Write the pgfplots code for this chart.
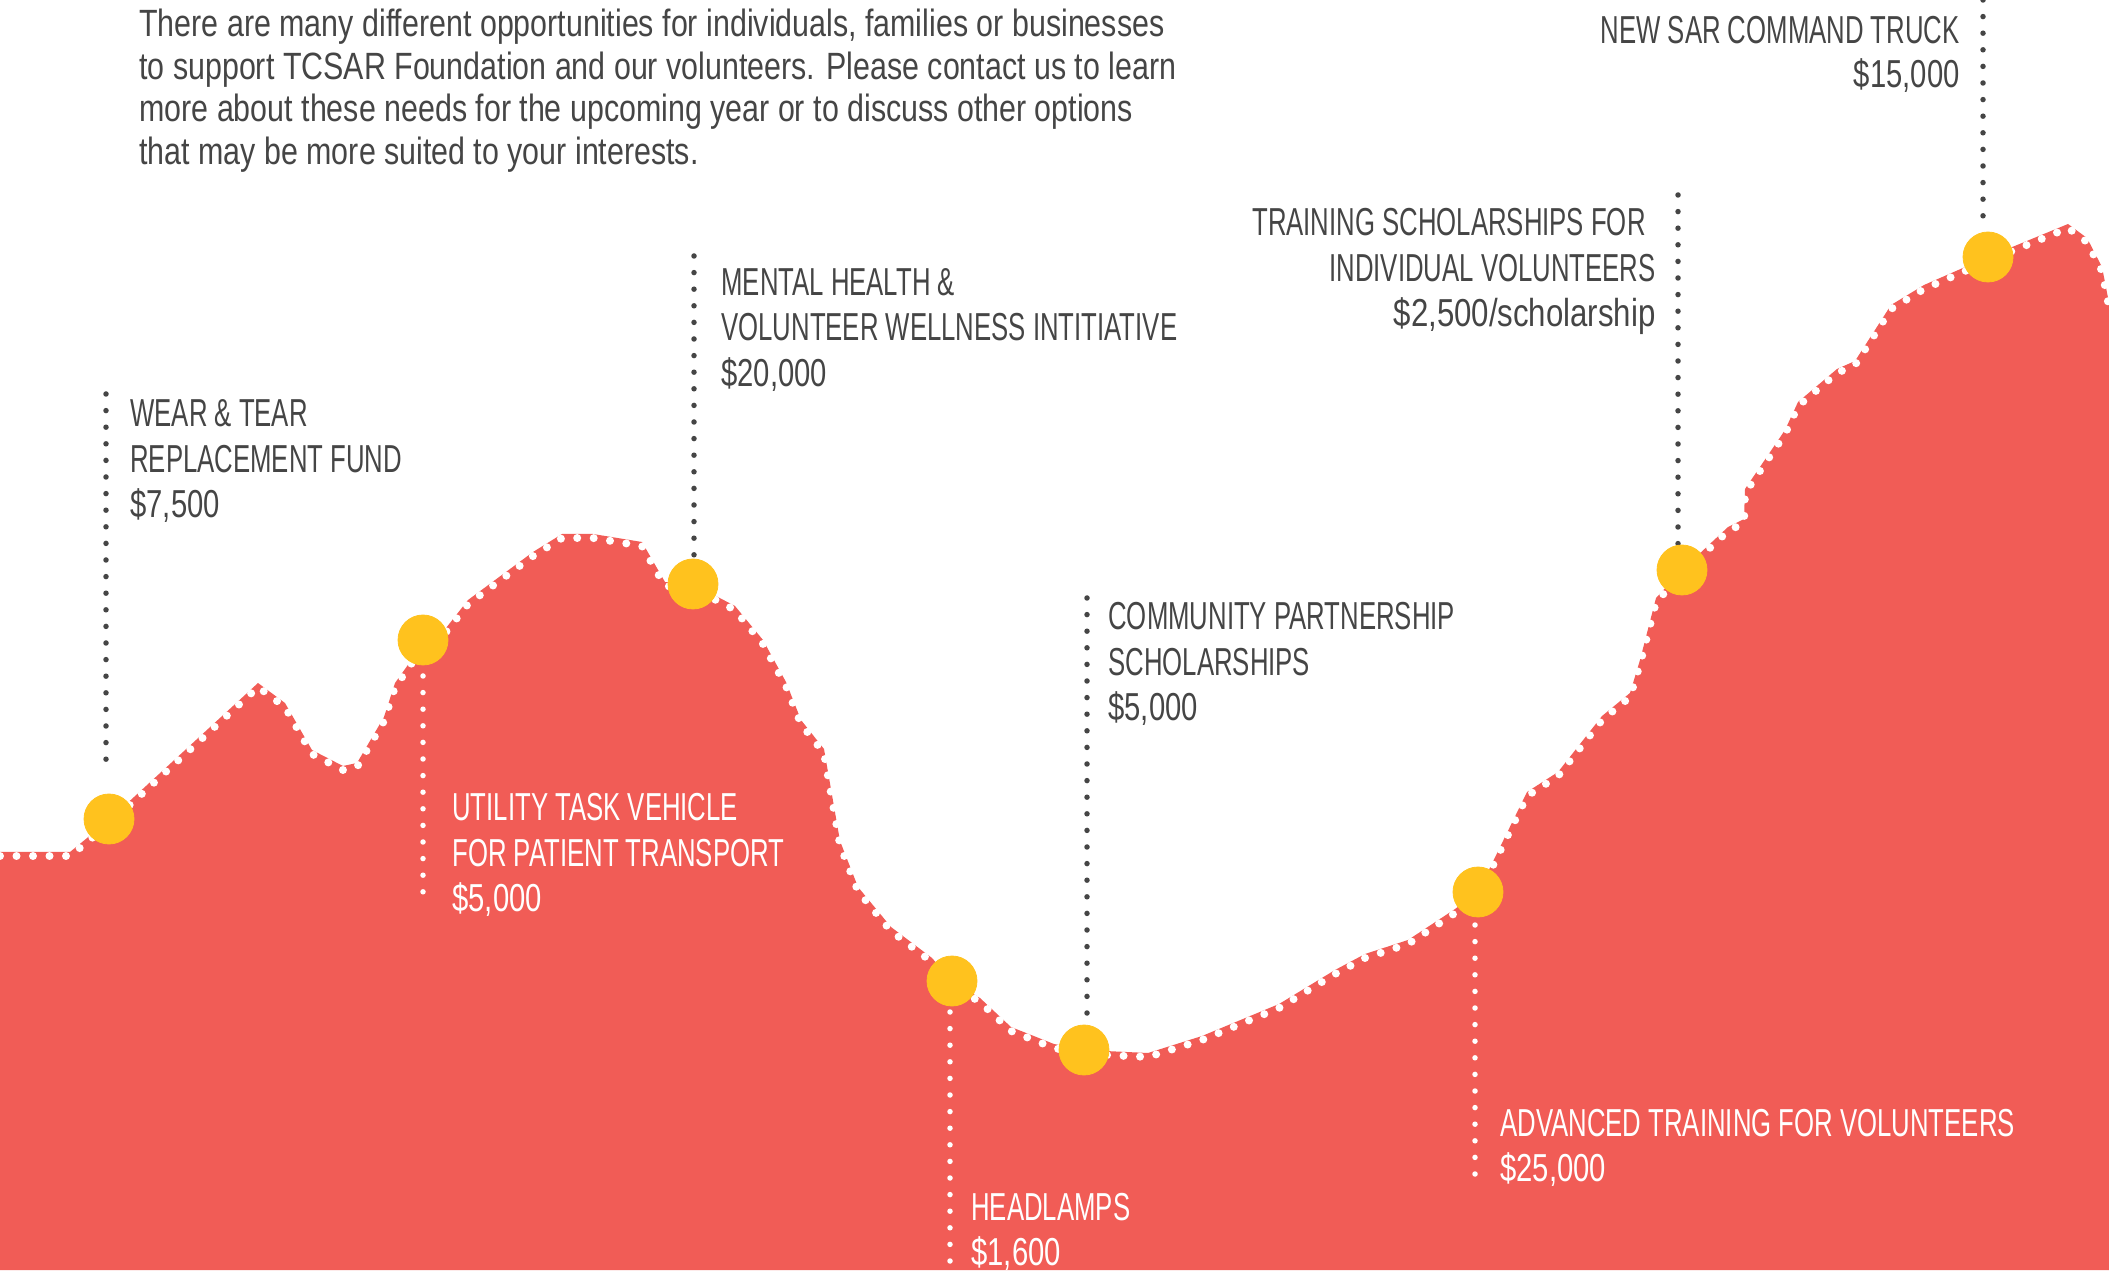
\documentclass[border=0pt]{standalone}
\usepackage{pgfplots}
\pgfplotsset{compat=1.18}
\usepackage{pgfplotstable}
\usepackage{fontspec}
\setmainfont{Liberation Sans}[FakeStretch=0.66]
\newfontfamily\numfont{Liberation Sans}[FakeStretch=0.75]
\newfontfamily\parafont{Liberation Sans}[FakeStretch=0.80]
\definecolor{tcred}{HTML}{F15C56}
\definecolor{tcgold}{HTML}{FFC21E}
\definecolor{tcgray}{HTML}{454545}

\tikzset{
    lab/.style={anchor=base west, inner sep=0pt, text=tcgray,
        font=\fontsize{19.5}{23}\selectfont},
    labr/.style={lab, anchor=base east},
    para/.style={lab, font=\parafont\fontsize{19}{23}\selectfont},
    leader/.style={line width=2.75pt, dash pattern=on 0pt off 8.3pt, line cap=round},
}

% ridge of the "mountain", x and y in image pixels (y measured from the bottom)
\pgfplotstableread{
x y
0 418
70 418
109 450
258 587
285 567
312 520
343 504
357 507
384 553
395 587
410 608
423 630
446 642
468 670
533 718
562 736
593 736
642 728
665 688
693 686
735 664
763 630
786 588
801 550
824 521
840 429
858 383
891 343
932 312
952 289
980 272
1011 243
1054 226
1084 220
1148 217
1202 234
1279 266
1335 300
1365 316
1408 330
1455 361
1478 378
1527 478
1558 498
1602 554
1630 577
1640 610
1656 672
1682 700
1728 743
1744 751
1745 781
1785 840
1798 868
1837 901
1855 909
1891 965
1924 985
1988 1013
2068 1046
2087 1032
2102 1003
2109 967
}\ridge

\begin{document}
\begin{tikzpicture}
\begin{axis}[
    width=1054.5pt, height=635pt, scale only axis,
    xmin=0, xmax=2109, ymin=0, ymax=1270,
    hide axis,
]
\addplot[draw=none, fill=tcred] table {\ridge} \closedcycle;
\addplot[white, line width=4pt, dash pattern=on 0pt off 8.25pt, line cap=round, yshift=-2pt] table {\ridge};

% leaders
\addplot[leader, tcgray] coordinates {(106,876) (106,498)};
\addplot[leader, white] coordinates {(423,594) (423,362)};
\addplot[leader, tcgray] coordinates {(694,1014) (694,715)};
\addplot[leader, white] coordinates {(950,258) (950,0)};
\addplot[leader, tcgray] coordinates {(1087,672) (1087,255)};
\addplot[leader, white] coordinates {(1475,345) (1475,90)};
\addplot[leader, tcgray] coordinates {(1678,1075) (1678,725)};
\addplot[leader, tcgray] coordinates {(1983,1270) (1983,1045)};

% markers
\addplot[only marks, mark=*, mark size=12.5pt, color=tcgold, mark options={solid, fill=tcgold, draw=tcgold}] coordinates {
(109,451) (423,630) (693,686) (952,289) (1084,220) (1478,378) (1682,700) (1988,1013)};

% intro text
\node[para] at (axis cs:139,1233) {There are many different opportunities for individuals, families or businesses};
\node[para] at (axis cs:139,1190) {to support TCSAR Foundation and our volunteers. Please contact us to learn};
\node[para] at (axis cs:139,1148) {more about these needs for the upcoming year or to discuss other options};
\node[para] at (axis cs:139,1105) {that may be more suited to your interests.};

% labels
\node[lab] at (axis cs:130,843) {WEAR \& TEAR};
\node[lab] at (axis cs:130,797) {REPLACEMENT FUND};
\node[lab] at (axis cs:130,752) {\numfont\$7,500};

\node[lab, text=white] at (axis cs:452,449) {UTILITY TASK VEHICLE};
\node[lab, text=white] at (axis cs:452,403) {FOR PATIENT TRANSPORT};
\node[lab, text=white] at (axis cs:452,358) {\numfont\$5,000};

\node[lab] at (axis cs:721,974) {MENTAL HEALTH \&};
\node[lab] at (axis cs:721,929) {VOLUNTEER WELLNESS INTITIATIVE};
\node[lab] at (axis cs:721,883) {\numfont\$20,000};

\node[lab, text=white] at (axis cs:971,50) {HEADLAMPS};
\node[lab, text=white] at (axis cs:971,5) {\numfont\$1,600};

\node[lab] at (axis cs:1108,640) {COMMUNITY PARTNERSHIP};
\node[lab] at (axis cs:1108,594) {SCHOLARSHIPS};
\node[lab] at (axis cs:1108,549) {\numfont\$5,000};

\node[lab, text=white] at (axis cs:1500,134) {ADVANCED TRAINING FOR VOLUNTEERS};
\node[lab, text=white] at (axis cs:1500,89) {\numfont\$25,000};

\node[labr] at (axis cs:1646,1034) {TRAINING SCHOLARSHIPS FOR};
\node[labr] at (axis cs:1656,988) {INDIVIDUAL VOLUNTEERS};
\node[labr] at (axis cs:1656,943) {\parafont\$2,500/scholarship};

\node[labr] at (axis cs:1960,1226) {NEW SAR COMMAND TRUCK};
\node[labr] at (axis cs:1960,1182) {\numfont\$15,000};
\end{axis}
\pgfresetboundingbox
\path (current axis.south west) rectangle (current axis.north east);
\end{tikzpicture}
\end{document}
